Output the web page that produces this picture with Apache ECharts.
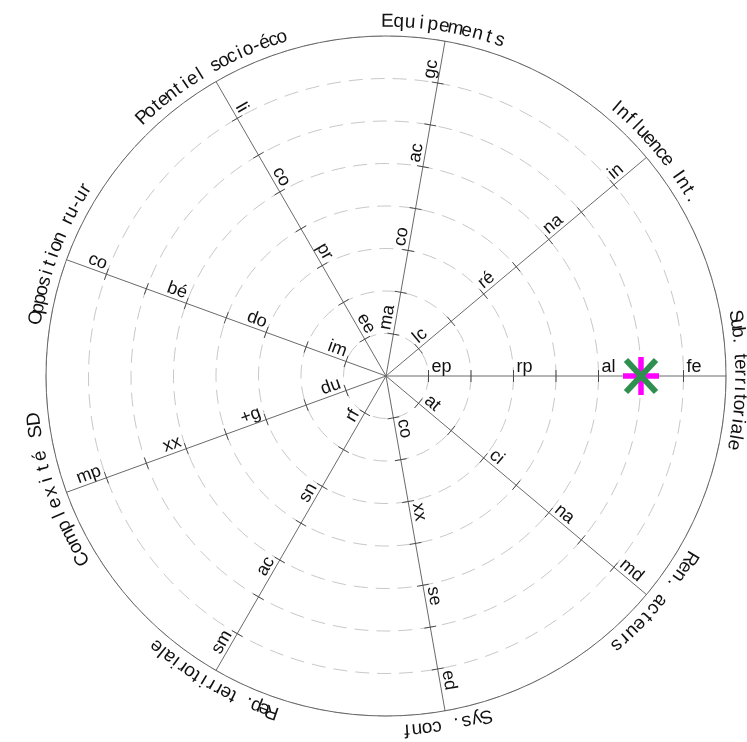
<!DOCTYPE html>
<html><head><meta charset="utf-8">
<script src="https://cdn.jsdelivr.net/npm/echarts@6/dist/echarts.min.js"></script>
<style>html,body{margin:0;padding:0;background:#fff}#c{width:747px;height:742px}</style>
</head><body><div id="c"></div>
<script>
// ---- data ----
const axisNames = ['Sub. territoriale','Influence Int.','Equipements','Potentiel socio-éco','Opposition ru-ur','Complexité SD','Rep. territoriale','Sys. conf','Ren. acteurs'];
const axisAngles = [0,40,80,120,160,200,240,280,320];
const tickLabels = [
  ['ep','rp','al','fe'],
  ['lc','ré','na','in'],
  ['ma','co','ac','gc'],
  ['ee','pr','co','li'],
  ['im','do','bé','co'],
  ['du','+g','xx','mp'],
  ['rf','sn','ac','sm'],
  ['co','xx','se','ed'],
  ['at','ci','na','md']
];
const labelRings = [1,3,5,7];
const ringMax = 8;
const plusPoints = [[6, 0]];   // [radius value, angle]
const crossPoints = [[6, 0]];

// ---- layout / style ----
const nameArc = [[9.7,-11.2],[49.5,30.1],[89.8,71.3],[133.2,107.1],[170.5,148],[211,187],[251.2,229.6],[286.4,273.4],[329.1,310.6]];
const FONT = '"Liberation Sans", Arial, Helvetica, sans-serif';

function renderFrame(params, api){
  const i = params.dataIndex;
  const ang = api.value(1);
  const c = api.coord([0, ang]);
  const e = api.coord([ringMax, ang]);
  const L = Math.hypot(e[0]-c[0], e[1]-c[1]);
  const unit = L / ringMax;
  const dx = (e[0]-c[0])/L, dy = (e[1]-c[1])/L;
  const px = -dy, py = dx;
  const ch = [];
  ch.push({type:'line', shape:{x1:c[0],y1:c[1],x2:e[0],y2:e[1]}, style:{stroke:'#6a6a6a', lineWidth:1}});
  for (let k=1;k<ringMax;k++){
    const p = api.coord([k, ang]);
    ch.push({type:'line', shape:{x1:p[0]+px*6,y1:p[1]+py*6,x2:p[0]-px*6,y2:p[1]-py*6}, style:{stroke:'#4a4a4a', lineWidth:1}});
  }
  const right = (ang < 90 || ang > 270);
  const rot = right ? ang*Math.PI/180 : (ang-180)*Math.PI/180;
  labelRings.forEach((k, j) => {
    const r = k*unit + 3;
    ch.push({type:'text', x:c[0]+dx*r, y:c[1]+dy*r, rotation:rot,
      style:{text:tickLabels[i][j], fill:'#111', font:'18px '+FONT, align: right?'left':'right', verticalAlign:'bottom'}});
  });
  // axis name, char by char along the arc
  const name = axisNames[i];
  const n = name.length;
  const a0 = nameArc[i][0], a1 = nameArc[i][1];
  const rb = L + 5;
  for (let j=0;j<n;j++){
    const a = a0 + (a1-a0)*j/(n-1);
    const rad = a*Math.PI/180;
    ch.push({type:'text', x:c[0]+rb*Math.cos(rad), y:c[1]-rb*Math.sin(rad), rotation:(a-90)*Math.PI/180,
      style:{text:name[j], fill:'#111', font:'19px '+FONT, align:'center', verticalAlign:'bottom'}});
  }
  if (i === 0){
    ch.push({type:'circle', shape:{cx:c[0],cy:c[1],r:L}, style:{fill:'none', stroke:'#666', lineWidth:1}});
  }
  return {type:'group', children:ch};
}

function renderPlus(params, api){
  const p = api.coord([api.value(0), api.value(1)]);
  return {type:'group', children:[
    {type:'line', shape:{x1:p[0]-18,y1:p[1],x2:p[0]+18,y2:p[1]}, style:{stroke:'#ff00ff', lineWidth:5.5}},
    {type:'line', shape:{x1:p[0],y1:p[1]-19,x2:p[0],y2:p[1]+19}, style:{stroke:'#ff00ff', lineWidth:5.5}}
  ]};
}
function renderCross(params, api){
  const p = api.coord([api.value(0), api.value(1)]);
  return {type:'group', children:[
    {type:'line', shape:{x1:p[0]-15,y1:p[1]-16,x2:p[0]+15,y2:p[1]+16}, style:{stroke:'#2f8f4f', lineWidth:6}},
    {type:'line', shape:{x1:p[0]-15,y1:p[1]+16,x2:p[0]+15,y2:p[1]-16}, style:{stroke:'#2f8f4f', lineWidth:6}}
  ]};
}

const chart = echarts.init(document.getElementById('c'), null, {renderer:'canvas'});
chart.setOption({
  backgroundColor:'#fff',
  animation:false,
  polar:{center:[386,376], radius:340},
  angleAxis:{type:'value', min:0, max:360, startAngle:0, clockwise:false,
    axisLine:{show:false}, axisTick:{show:false}, axisLabel:{show:false}, splitLine:{show:false}},
  radiusAxis:{type:'value', min:0, max:ringMax, interval:1,
    axisLine:{show:false}, axisTick:{show:false}, axisLabel:{show:false},
    splitLine:{show:true, lineStyle:{color:'#c8c8c8', width:1, type:[14,8]}}},
  series:[
    {type:'custom', coordinateSystem:'polar', data:axisAngles.map(a=>[ringMax, a]), renderItem:renderFrame, silent:true, z:3},
    {type:'custom', coordinateSystem:'polar', data:plusPoints, renderItem:renderPlus, silent:true, z:4},
    {type:'custom', coordinateSystem:'polar', data:crossPoints, renderItem:renderCross, silent:true, z:5}
  ]
});
</script></body></html>
